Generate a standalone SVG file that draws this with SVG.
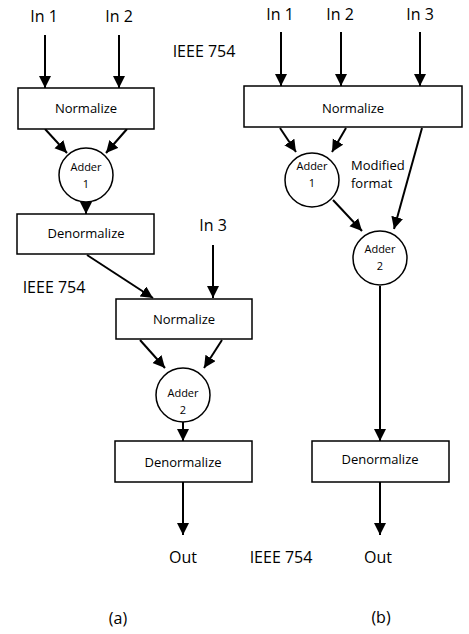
<svg xmlns="http://www.w3.org/2000/svg" width="469" height="634" viewBox="0 0 469 634">
<defs>
<marker id="ah" markerUnits="userSpaceOnUse" markerWidth="13" markerHeight="13" refX="12" refY="6" orient="auto">
<path d="M0,0 L12,6 L0,12 Z" fill="#000"/>
</marker>
<style>
.box{fill:#fff;stroke:#000;stroke-width:1.5}
.c{fill:#fff;stroke:#000;stroke-width:1.5}
.ln{stroke:#000;stroke-width:2;fill:none;marker-end:url(#ah)}
text{font-family:"Open Sans","Noto Sans","Liberation Sans",sans-serif;fill:#000;text-anchor:middle}
.big{font-size:16px}
.mid{font-size:13px}
.sm{font-size:11px}
</style>
</defs>
<rect width="469" height="634" fill="#fff"/>
<g id="connectors">
<line class="ln" x1="45" y1="35" x2="45" y2="88"/>
<line class="ln" x1="119" y1="35" x2="119" y2="88"/>
<line class="ln" x1="45" y1="129" x2="67" y2="153"/>
<line class="ln" x1="127" y1="129" x2="106" y2="153"/>
<line class="ln" x1="86" y1="202" x2="86" y2="214"/>
<line class="ln" x1="213" y1="245" x2="213" y2="298"/>
<line class="ln" x1="87" y1="255" x2="153" y2="298"/>
<line class="ln" x1="140" y1="340" x2="165" y2="368"/>
<line class="ln" x1="222" y1="340" x2="204" y2="368"/>
<line class="ln" x1="183" y1="422" x2="183" y2="441"/>
<line class="ln" x1="183" y1="482" x2="183" y2="535"/>
<line class="ln" x1="281" y1="32" x2="281" y2="86"/>
<line class="ln" x1="341" y1="32" x2="341" y2="86"/>
<line class="ln" x1="420" y1="32" x2="420" y2="86"/>
<line class="ln" x1="280" y1="128" x2="296" y2="152"/>
<line class="ln" x1="346" y1="128" x2="332" y2="152"/>
<line class="ln" x1="422" y1="128" x2="394" y2="229"/>
<line class="ln" x1="333" y1="200" x2="362" y2="231"/>
<line class="ln" x1="380" y1="286" x2="380" y2="441"/>
<line class="ln" x1="380" y1="482" x2="380" y2="535"/>
</g>
<g id="in1a"><text class="big" x="44" y="22">In 1</text></g>
<g id="in2a"><text class="big" x="119" y="22">In 2</text></g>
<g id="ieee1"><text class="big" x="204" y="57">IEEE 754</text></g>
<g id="norm1a"><rect class="box" x="18" y="88" width="136" height="41"/><text class="mid" x="86" y="113">Normalize</text></g>
<g id="adder1a"><circle class="c" cx="86" cy="175" r="27"/><text class="sm" x="86" y="171">Adder</text><text class="sm" x="86" y="188">1</text></g>
<g id="denorm1a"><rect class="box" x="17" y="214" width="137" height="40"/><text class="mid" x="86" y="238">Denormalize</text></g>
<g id="in3a"><text class="big" x="213" y="231">In 3</text></g>
<g id="ieee2"><text class="big" x="54" y="293">IEEE 754</text></g>
<g id="norm2a"><rect class="box" x="116" y="299" width="136" height="40"/><text class="mid" x="184" y="324">Normalize</text></g>
<g id="adder2a"><circle class="c" cx="183" cy="395" r="27"/><text class="sm" x="183" y="397">Adder</text><text class="sm" x="183" y="414">2</text></g>
<g id="denorm2a"><rect class="box" x="115" y="441" width="137" height="41"/><text class="mid" x="183" y="467">Denormalize</text></g>
<g id="outa"><text class="big" x="183" y="563">Out</text></g>
<g id="ieee3"><text class="big" x="281" y="563">IEEE 754</text></g>
<g id="labela"><text class="big" x="118" y="624">(a)</text></g>
<g id="in1b"><text class="big" x="280" y="20">In 1</text></g>
<g id="in2b"><text class="big" x="340" y="20">In 2</text></g>
<g id="in3b"><text class="big" x="420" y="20">In 3</text></g>
<g id="normb"><rect class="box" x="244" y="86" width="218" height="41"/><text class="mid" x="353" y="113">Normalize</text></g>
<g id="adder1b"><circle class="c" cx="312" cy="180" r="27"/><text class="sm" x="312" y="170">Adder</text><text class="sm" x="312" y="187">1</text></g>
<g id="modified"><text class="mid" x="351" y="170" style="text-anchor:start">Modified</text><text class="mid" x="351" y="188" style="text-anchor:start">format</text></g>
<g id="adder2b"><circle class="c" cx="380" cy="258" r="27"/><text class="sm" x="380" y="253">Adder</text><text class="sm" x="380" y="270">2</text></g>
<g id="denormb"><rect class="box" x="312" y="441" width="137" height="41"/><text class="mid" x="380" y="464">Denormalize</text></g>
<g id="outb"><text class="big" x="378" y="563">Out</text></g>
<g id="labelb"><text class="big" x="381" y="623">(b)</text></g>
</svg>
